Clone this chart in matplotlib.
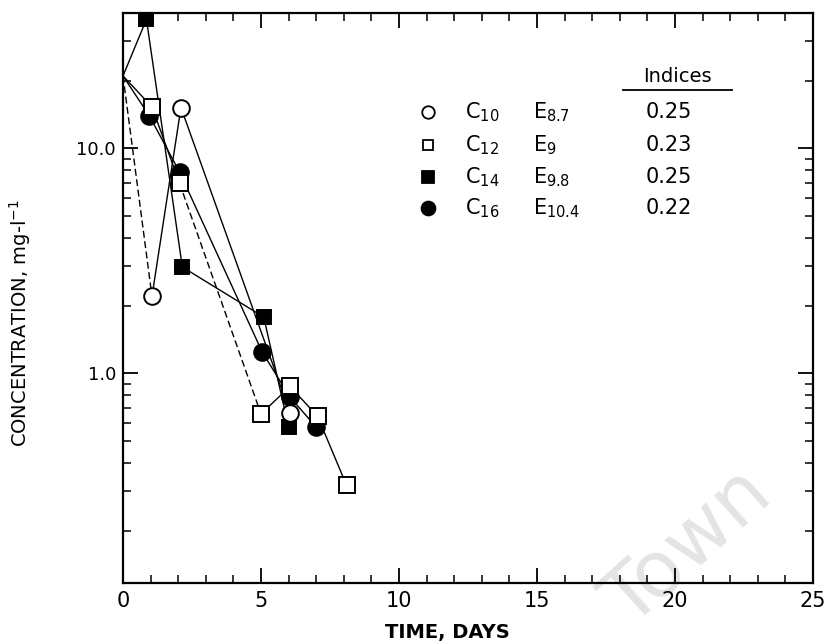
import matplotlib
matplotlib.use("Agg")
import matplotlib.pyplot as plt
from matplotlib.lines import Line2D
from matplotlib.ticker import FixedLocator, FixedFormatter, NullFormatter

# ---------------- data ----------------
c10_x = [0, 1.05, 2.1, 6.05]
c10_y = [21.0, 2.2, 15.2, 0.67]

c12_x = [0, 1.05, 2.05, 5.0, 6.05, 7.05, 8.1]
c12_y = [21.0, 15.3, 7.0, 0.66, 0.875, 0.645, 0.318]

c14_x = [0, 0.85, 2.15, 5.1, 6.0]
c14_y = [21.0, 37.5, 2.97, 1.78, 0.577]

c16_x = [0, 0.95, 2.05, 5.05, 6.05, 7.0]
c16_y = [21.0, 14.0, 7.85, 1.24, 0.785, 0.577]

legend_c = ["C$_{10}$", "C$_{12}$", "C$_{14}$", "C$_{16}$"]
legend_e = ["E$_{8.7}$", "E$_{9}$", "E$_{9.8}$", "E$_{10.4}$"]
indices = ["0.25", "0.23", "0.25", "0.22"]

x_major = [0, 5, 10, 15, 20, 25]
x_minor = [i for i in range(1, 25) if i % 5]
y_major = [1.0, 10.0]
y_major_labels = ["1.0", "10.0"]
y_minor = [0.2, 0.3, 0.4, 0.5, 0.6, 0.7, 0.8, 0.9, 2, 3, 4, 5, 6, 7, 8, 9, 20, 30]

# ---------------- figure ----------------
W, H = 826, 643
fig = plt.figure(figsize=(W / 100, H / 100), dpi=100)
ax = fig.add_axes([123 / W, (H - 583) / H, 690 / W, 570 / H])

def px(x, y):
    return (x / W, 1 - y / H)

# watermark
wx, wy = px(688, 548)
ax.text(wx, wy, "Town", transform=fig.transFigure, rotation=42, fontsize=56,
        color="#e4e4e4", ha="center", va="center", zorder=0.5, clip_on=False)

def draw_series(xs, ys, marker, filled, ms, dashed=()):
    for i in range(len(xs) - 1):
        ls = (0, (5, 2.5)) if i in dashed else "-"
        ax.plot(xs[i:i + 2], ys[i:i + 2], color="black", lw=1.0, ls=ls, zorder=2)
    ax.plot(xs[1:], ys[1:], ls="none", marker=marker, ms=ms,
            mfc="black" if filled else "white", mec="black", mew=1.4, zorder=4 if filled else 5)

draw_series(c14_x, c14_y, "s", True, 10.5)
draw_series(c16_x, c16_y, "o", True, 12)
draw_series(c12_x, c12_y, "s", False, 11, dashed=(2,))
draw_series(c10_x, c10_y, "o", False, 12, dashed=(0,))

ax.set_yscale("log")
ax.set_xlim(0, 25)
ax.set_ylim(0.117, 40)

ax.xaxis.set_major_locator(FixedLocator(x_major))
ax.xaxis.set_minor_locator(FixedLocator(x_minor))
ax.yaxis.set_major_locator(FixedLocator(y_major))
ax.yaxis.set_major_formatter(FixedFormatter(y_major_labels))
ax.yaxis.set_minor_locator(FixedLocator(y_minor))
ax.yaxis.set_minor_formatter(NullFormatter())

ax.tick_params(which="both", direction="in", top=True, right=True, colors="black")
ax.tick_params(which="major", length=11, width=1.3, labelsize=15, pad=6)
ax.tick_params(which="minor", length=6, width=1.1)
ax.tick_params(axis="y", which="major", labelsize=13, pad=5)
for s in ax.spines.values():
    s.set_linewidth(1.6)

ax.set_xlabel("TIME, DAYS", fontsize=14, fontweight="bold")
ax.xaxis.set_label_coords((447 - 123) / 690, (583 - 623) / 570)
ax.set_ylabel("CONCENTRATION, mg-l$^{-1}$", fontsize=14)
ax.yaxis.set_label_coords((33 - 123) / 690, 1 - (323 - 13) / 570)

# ---------------- legend (drawn by hand) ----------------
rows = [112, 145, 177, 208]
keys = [("o", False, 9), ("s", False, 7), ("s", True, 8), ("o", True, 10)]
for r, (m, f, s), ct, et, iv in zip(rows, keys, legend_c, legend_e, indices):
    kx, ky = px(428, r)
    fig.add_artist(Line2D([kx], [ky], transform=fig.transFigure, marker=m, ms=s,
                          mfc="black" if f else "white", mec="black", mew=1.3, ls="none"))
    tx, ty = px(465, r)
    fig.text(tx, ty, ct, fontsize=15, ha="left", va="center")
    tx, ty = px(533, r)
    fig.text(tx, ty, et, fontsize=15, ha="left", va="center")
    tx, ty = px(646, r)
    fig.text(tx, ty, iv, fontsize=15, ha="left", va="center")

tx, ty = px(677, 76)
fig.text(tx, ty, "Indices", fontsize=14, ha="center", va="center")
u0 = px(623, 90)
u1 = px(732, 90)
fig.add_artist(Line2D([u0[0], u1[0]], [u0[1], u1[1]], transform=fig.transFigure,
                      color="black", lw=1.3))

fig.savefig("out.png", dpi=100)
